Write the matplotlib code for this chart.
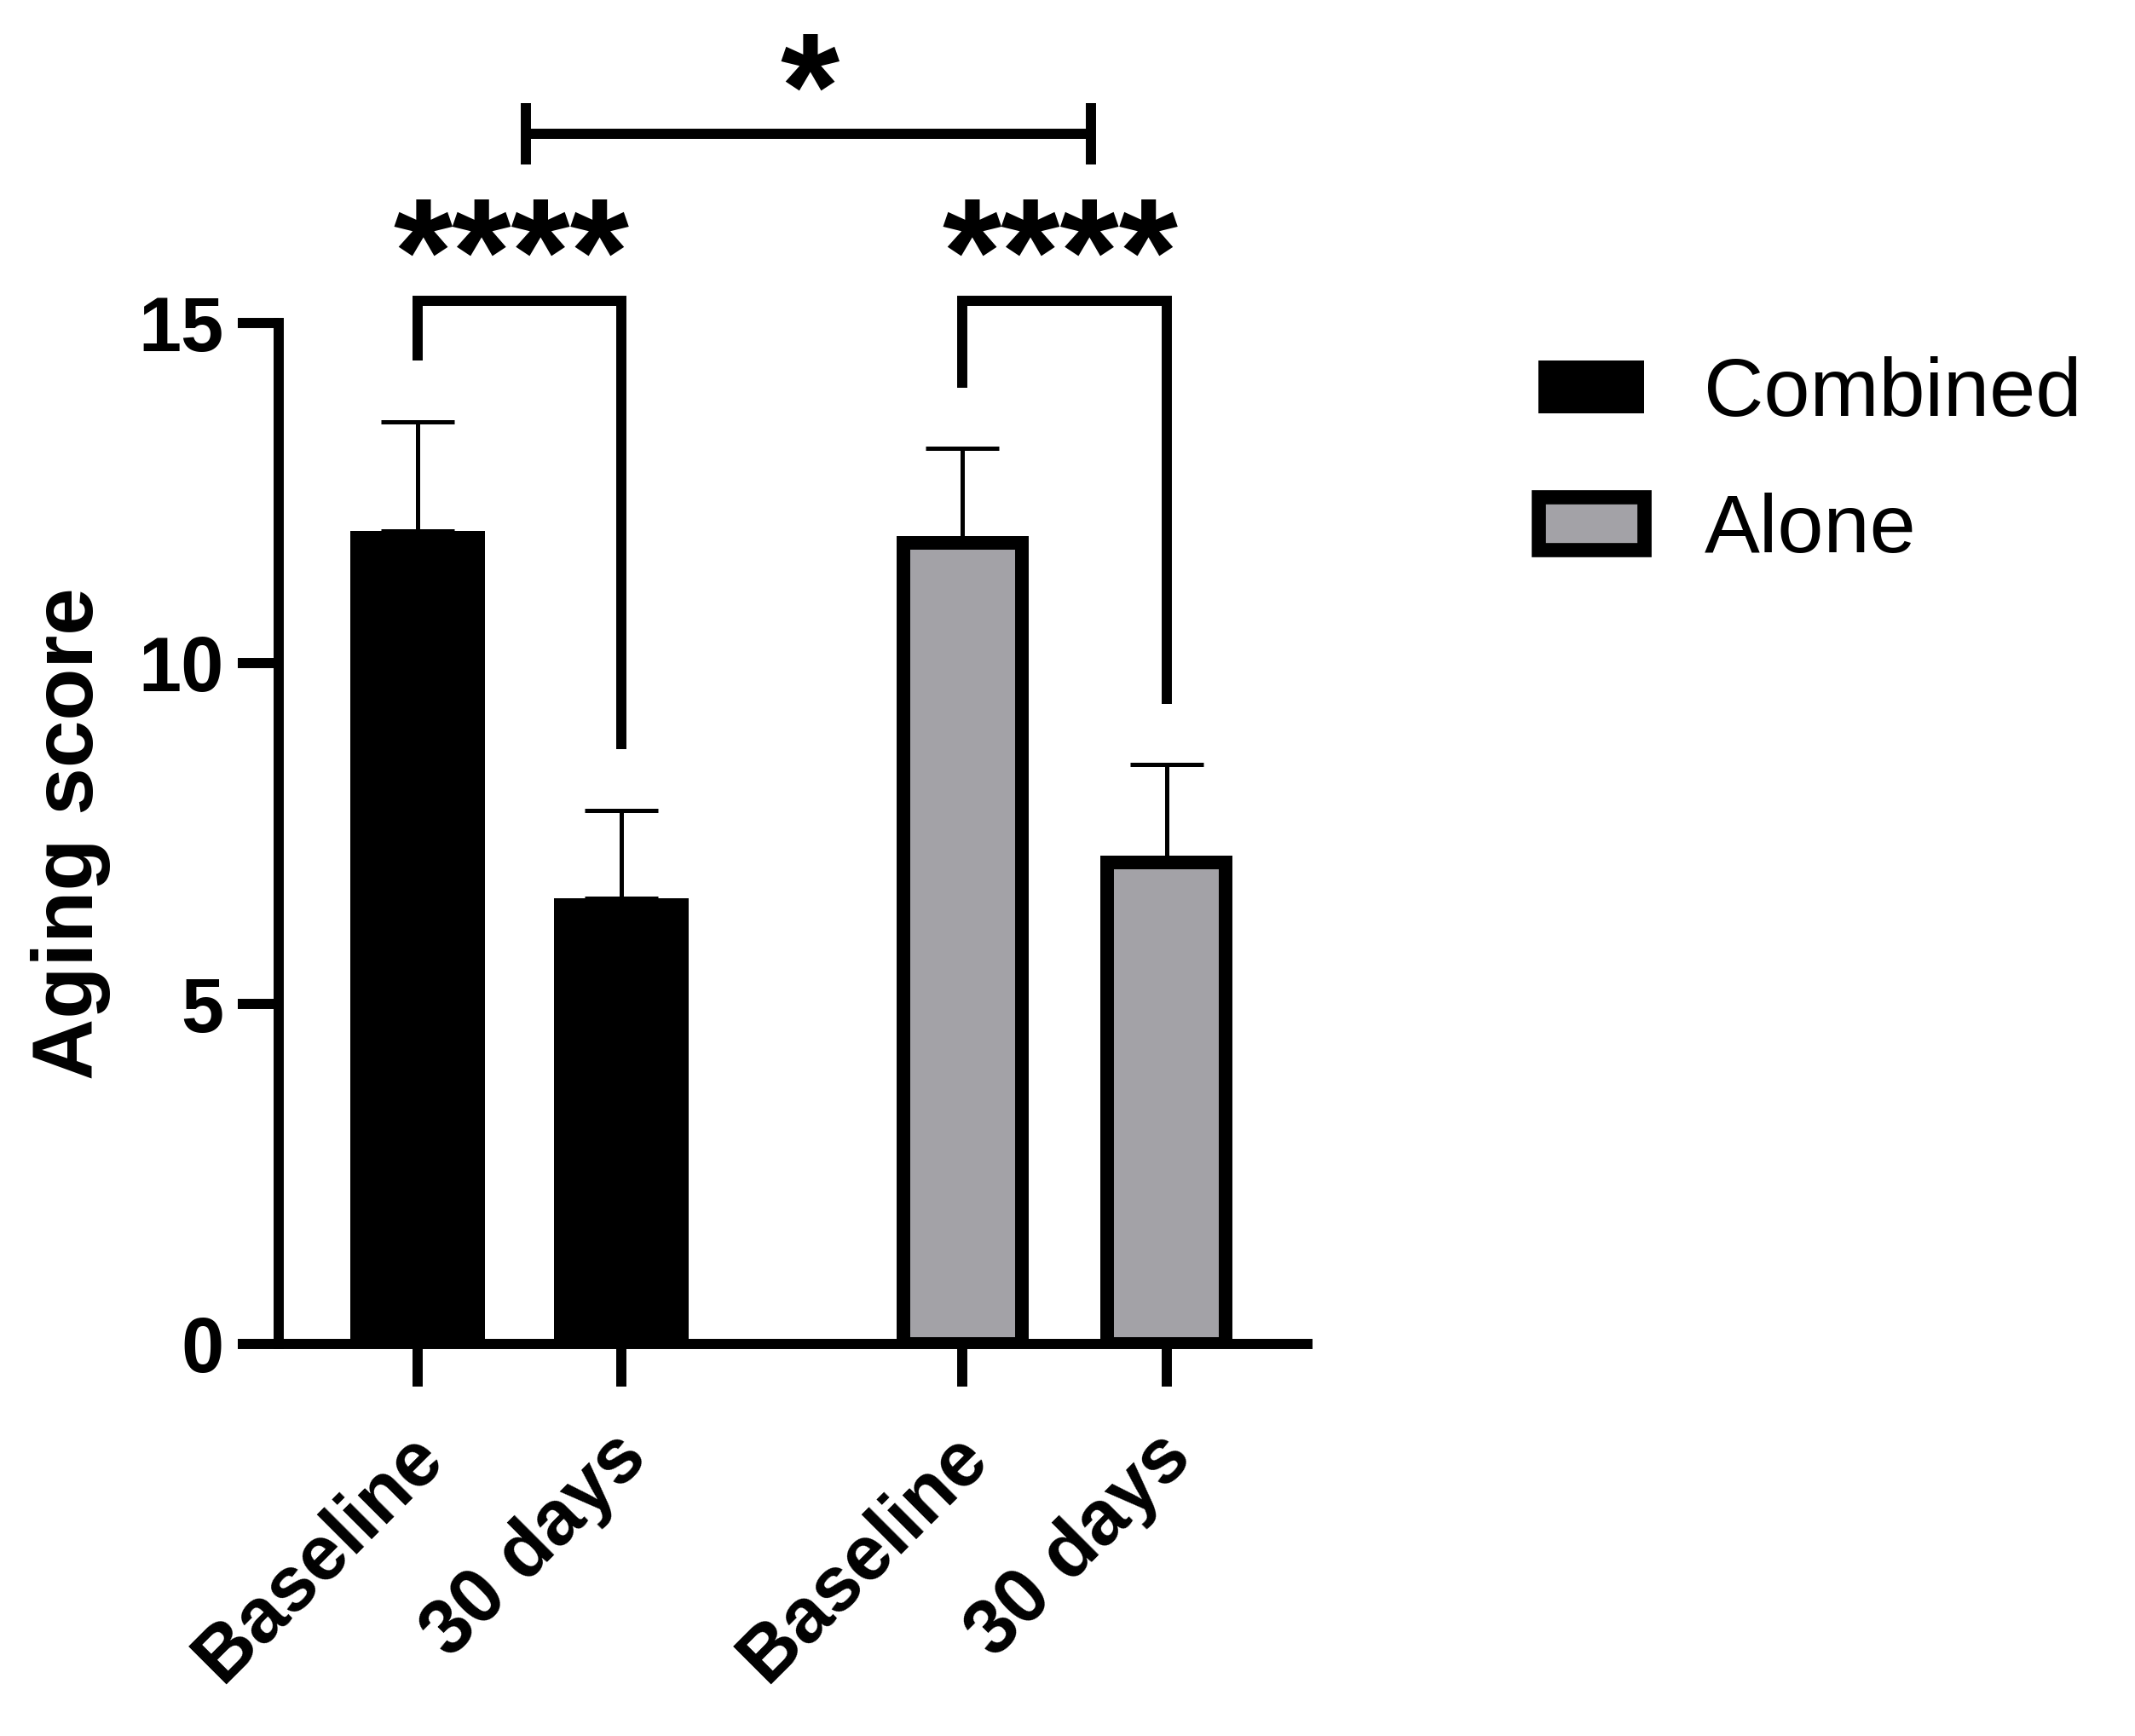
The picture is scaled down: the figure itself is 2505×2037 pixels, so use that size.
import matplotlib
matplotlib.use("Agg")
import matplotlib.pyplot as plt
import matplotlib.transforms as mtransforms
import numpy as np
from matplotlib.patches import Patch

# ---- data ----
groups = ["Combined", "Alone"]
tick_labels = ["Baseline", "30 days", "Baseline", "30 days"]
combined_mean = [11.94, 6.55]
combined_err = [1.60, 1.28]
alone_mean = [11.76, 7.07]
alone_err = [1.40, 1.44]
star_within = "****"
star_between = "*"

# ---- layout ----
W, H, DPI = 2505, 2037, 100
fig = plt.figure(figsize=(W / DPI, H / DPI), dpi=DPI)
FONT = "Liberation Sans"
plt.rcParams["font.family"] = [FONT, "DejaVu Sans"]

ax = fig.add_axes([327 / W, 1 - 1577 / H, (1534 - 327) / W, 19.5 * 79.9 / H])
ax.set_xlim(-0.68, 4.36)
ax.set_ylim(0, 19.5)

x_comb = np.array([0.0, 1.0])
x_alone = np.array([2.67, 3.67])
gray = "#a3a2a7"

ax.bar(x_comb, combined_mean, width=0.66, color="black", edgecolor="black",
       linewidth=0, zorder=3)
ax.bar(x_alone, alone_mean, width=0.58, color=gray, edgecolor="black",
       linewidth=11.5, zorder=3)

ax.errorbar(x_comb, combined_mean, yerr=[np.zeros(2), combined_err], fmt="none",
            ecolor="black", elinewidth=3.6, capsize=31, capthick=3.6, zorder=2)
ax.errorbar(x_alone, alone_mean, yerr=[np.zeros(2), alone_err], fmt="none",
            ecolor="black", elinewidth=3.6, capsize=31, capthick=3.6, zorder=2)

# spines
for s in ["top", "right"]:
    ax.spines[s].set_visible(False)
ax.spines["left"].set_linewidth(8.6)
ax.spines["bottom"].set_linewidth(8.6)
ax.spines["left"].set_bounds(0, 15)
ax.spines["left"].set_zorder(5)
ax.spines["bottom"].set_zorder(5)
ax.spines["left"].set_capstyle("projecting")

ax.set_yticks([0, 5, 10, 15])
ax.set_yticklabels(["0", "5", "10", "15"], fontsize=65, fontweight="bold")
ax.tick_params(axis="y", length=34.5, width=8.6, pad=12)
ax.set_xticks(list(x_comb) + list(x_alone))
ax.set_xticklabels(tick_labels, fontsize=65, fontweight="bold", rotation=45,
                   ha="right", va="center", rotation_mode="anchor")
ax.tick_params(axis="x", length=36, width=8.6, pad=30)
offset = mtransforms.ScaledTranslation(16 / DPI, -28 / DPI, fig.dpi_scale_trans)
for lab in ax.get_xticklabels():
    lab.set_transform(lab.get_transform() + offset)

ax.set_ylabel("Aging score", fontsize=72, fontweight="bold")
ax.yaxis.set_label_coords(-0.163, 7.5 / 19.5)

# significance brackets
blw = 8.6
def bracket(x0, x1, y0, y1, ytop):
    ax.plot([x0, x0, x1, x1], [y0, ytop, ytop, y1], color="black", lw=blw,
            solid_joinstyle="miter", solid_capstyle="butt", clip_on=False, zorder=4)

bracket(0.0, 1.0, 14.44, 8.74, 15.32)
bracket(2.67, 3.67, 14.04, 9.40, 15.32)
ax.text(0.46, 15.27, star_within, fontsize=128, fontweight="bold", ha="center",
        va="baseline", clip_on=False)
ax.text(3.15, 15.27, star_within, fontsize=128, fontweight="bold", ha="center",
        va="baseline", clip_on=False)

# between-group bracket
ax.plot([0.53, 3.30], [17.77, 17.77], color="black", lw=blw, clip_on=False,
        solid_capstyle="butt")
for xc in [0.53, 3.30]:
    ax.plot([xc, xc], [17.32, 18.22], color="black", lw=blw, clip_on=False,
            solid_capstyle="butt")
ax.text(1.92, 17.70, star_between, fontsize=128, fontweight="bold", ha="center",
        va="baseline", clip_on=False)

# legend
handles = [Patch(facecolor="black", edgecolor="black", linewidth=0),
           Patch(facecolor=gray, edgecolor="black", linewidth=12)]
fig.legend(handles, groups, loc="upper left", bbox_to_anchor=(1805 / W, 1 - 418 / H),
           frameon=False, fontsize=70, handlelength=1.28, handleheight=0.6,
           handletextpad=0.72, labelspacing=0.72, borderpad=0, borderaxespad=0)

fig.savefig("out.png", dpi=DPI)
